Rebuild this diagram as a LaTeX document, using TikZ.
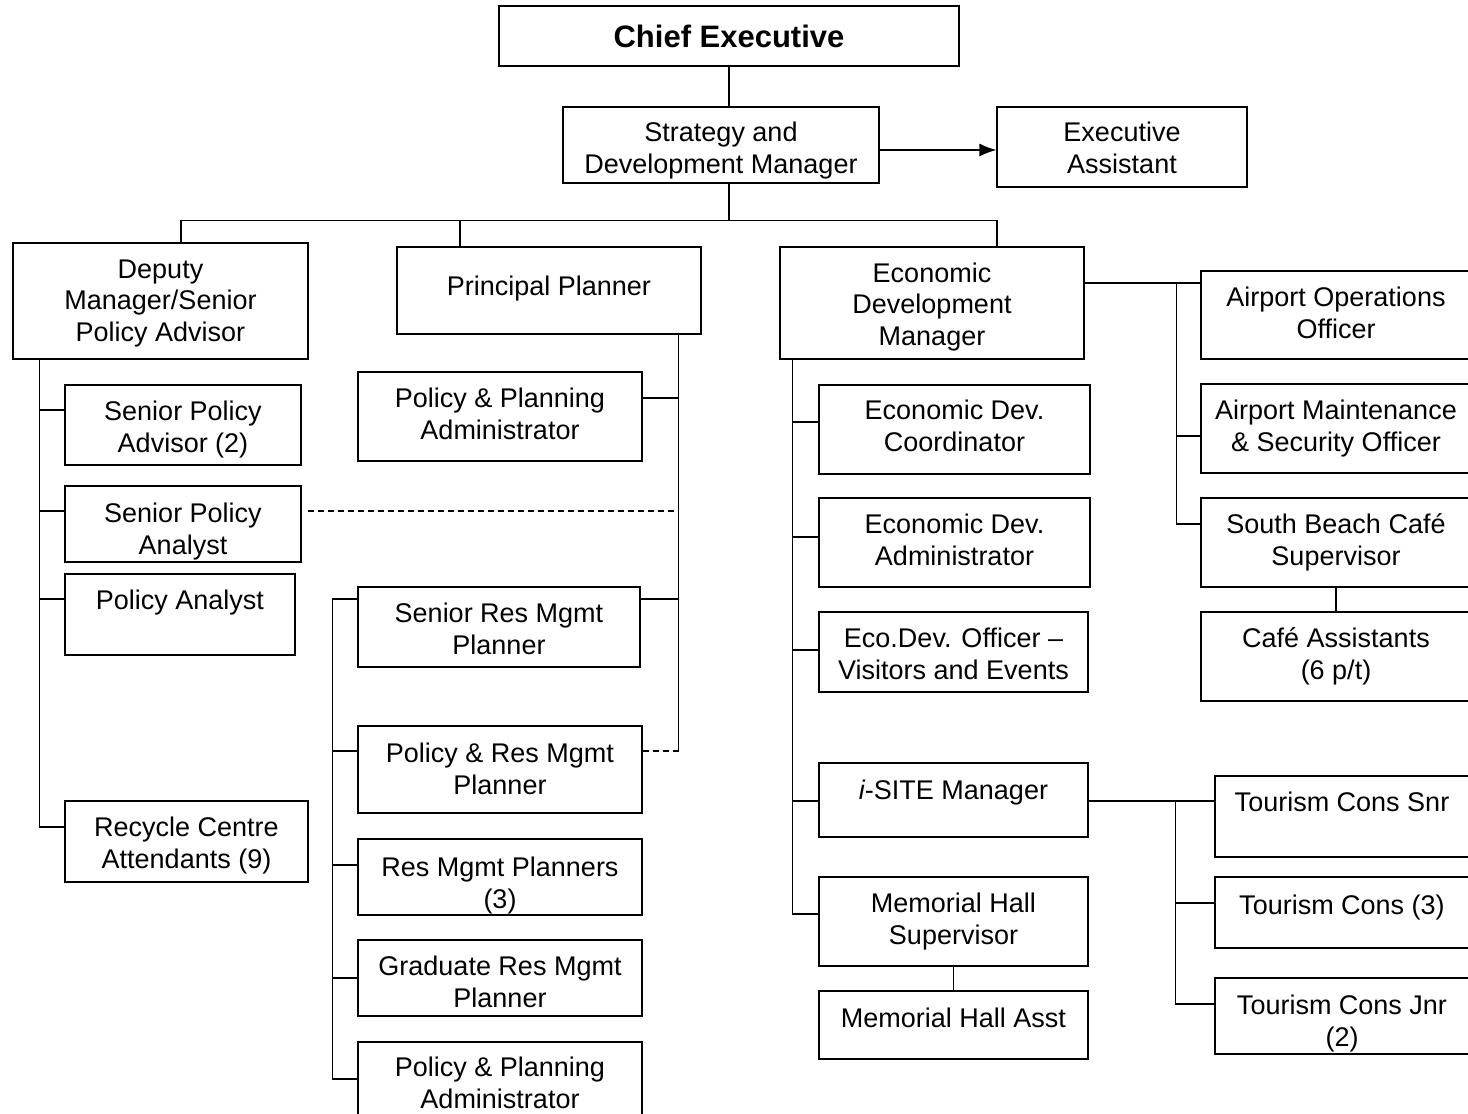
\documentclass[tikz,border=0pt]{standalone}
\usepackage{fontspec}
\setmainfont{Liberation Sans}
\usetikzlibrary{arrows.meta}

\begin{document}
\begin{tikzpicture}[x=1pt, y=-1pt, line width=1.2pt,
    role/.style={draw, align=center, inner sep=0pt, font=\fontsize{27}{31.5}\selectfont},
    tb/.style={text height=#1, text depth=0pt},
    tt/.style={text height=0pt, text depth=#1},
    dashline/.style={dash pattern=on 6pt off 4pt}]
    \useasboundingbox (0,0) rectangle (1468,1114);
    \node[role, minimum width=460pt, minimum height=60pt, font=\fontsize{31}{36}\selectfont\bfseries] (chief) at (729,36) {Chief Executive};
    \node[role, tb=56.5pt, minimum width=316pt, minimum height=76pt] (sdm) at (721,145) {Strategy and\\Development Manager};
    \node[role, tb=52.5pt, minimum width=250pt, minimum height=80pt] (ea) at (1122,147) {Executive\\Assistant};
    \node[role, tb=80.5pt, minimum width=295pt, minimum height=116pt] (dep) at (160.5,301) {Deputy\\Manager/Senior\\Policy Advisor};
    \node[role, tb=9.5pt, minimum width=304pt, minimum height=87pt] (pp) at (549,290.5) {Principal Planner};
    \node[role, tb=84.5pt, minimum width=304pt, minimum height=112pt] (edm) at (932,303) {Economic\\Development\\Manager};
    \node[role, tb=46.5pt, minimum width=270pt, minimum height=88pt] (aoo) at (1336,315) {Airport Operations\\Officer};
    \node[role, tb=45.5pt, minimum width=270pt, minimum height=89pt] (ams) at (1336,428.5) {Airport Maintenance\\\& Security Officer};
    \node[role, tb=45.5pt, minimum width=270pt, minimum height=89pt] (sbc) at (1336,542.5) {South Beach Café\\Supervisor};
    \node[role, tb=45.5pt, minimum width=270pt, minimum height=89pt] (cafe) at (1336,656.5) {Café Assistants\\(6 p/t)};
    \node[role, tb=54.5pt, minimum width=236pt, minimum height=80pt] (spa) at (183,425) {Senior Policy\\Advisor (2)};
    \node[role, tb=60.5pt, minimum width=236pt, minimum height=76pt] (span) at (183,524) {Senior Policy\\Analyst};
    \node[role, tt=10.5pt, minimum width=230pt, minimum height=81pt] (pa) at (180,614.5) {Policy Analyst};
    \node[role, tb=53.5pt, minimum width=243pt, minimum height=81pt] (rca) at (186.5,841.5) {Recycle Centre\\Attendants (9)};
    \node[role, tb=45.5pt, minimum width=284pt, minimum height=89pt] (ppa1) at (500,416.5) {Policy \& Planning\\Administrator};
    \node[role, tb=54.5pt, minimum width=282pt, minimum height=80pt] (srmp) at (499,627) {Senior Res Mgmt\\Planner};
    \node[role, tb=49.5pt, minimum width=284pt, minimum height=87pt] (prmp) at (500,769.5) {Policy \& Res Mgmt\\Planner};
    \node[role, tb=62.5pt, minimum width=284pt, minimum height=76pt] (rmp) at (500,877) {Res Mgmt Planners\\(3)};
    \node[role, tb=58.5pt, minimum width=284pt, minimum height=76pt] (grmp) at (500,978) {Graduate Res Mgmt\\Planner};
    \node[role, tb=48.5pt, minimum width=284pt, minimum height=84pt] (ppa2) at (500,1084) {Policy \& Planning\\Administrator};
    \node[role, tb=43.5pt, minimum width=271pt, minimum height=89pt] (edc) at (954.5,429.5) {Economic Dev.\\Coordinator};
    \node[role, tb=45.5pt, minimum width=271pt, minimum height=89pt] (eda) at (954.5,542.5) {Economic Dev.\\Administrator};
    \node[role, tb=54.5pt, minimum width=269pt, minimum height=80pt] (edo) at (953.5,652) {Eco.Dev. Officer --\\Visitors and Events};
    \node[role, tt=1.5pt, minimum width=269pt, minimum height=74pt] (isite) at (953.5,800) {{\itshape i}-SITE Manager};
    \node[role, tb=45.5pt, minimum width=269pt, minimum height=89pt] (mhs) at (953.5,921.5) {Memorial Hall\\Supervisor};
    \node[role, tb=4.5pt, minimum width=269pt, minimum height=68pt] (mha) at (953.5,1025) {Memorial Hall Asst};
    \node[role, tt=10.5pt, minimum width=254pt, minimum height=81pt] (tcs) at (1342,816.5) {Tourism Cons Snr};
    \node[role, tb=3.5pt, minimum width=254pt, minimum height=71pt] (tc3) at (1342,912.5) {Tourism Cons (3)};
    \node[role, tb=60.5pt, minimum width=254pt, minimum height=76pt] (tcj) at (1342,1016) {Tourism Cons Jnr\\(2)};

    \draw (chief.south) -- (chief.south |- sdm.north);
    \draw[-{Latex[length=17pt,width=13pt]}] ([yshift=-5]sdm.east) -- ([yshift=-5]sdm.east -| ea.west);
    \draw ([xshift=8]sdm.south) -- ++(0,37) coordinate (bus);
    \coordinate (depin) at ([xshift=20.5]dep.north);
    \coordinate (ppin) at ([xshift=-89]pp.north);
    \coordinate (edmin) at ([xshift=65]edm.north);
    \draw (depin) |- (bus) -| (edmin);
    \draw (ppin) -- (ppin |- bus);

    \coordinate (dtop) at ([xshift=27]dep.south west);
    \draw (dtop) |- ([yshift=14.5]rca.west);
    \foreach \n/\s in {spa/15, span/13, pa/15.5}
        \draw ([yshift=\s]\n.west) -- ([yshift=\s]\n.west -| dtop);

    \coordinate (ptop) at ([xshift=-23]pp.south east);
    \draw ([yshift=18.5]ppa1.east) -- ([yshift=18.5]ppa1.east -| ptop);
    \draw ([yshift=28]srmp.east) -- ([yshift=28]srmp.east -| ptop);
    \draw (ptop) -- ([yshift=18.5]prmp.east -| ptop) coordinate (pend);
    \draw[dashline] ([yshift=18.5]prmp.east) -- (pend);
    \draw[dashline] ([xshift=6,yshift=13]span.east) -- ([yshift=13]span.east -| ptop);

    \draw ([yshift=28]srmp.west) -- ++(-25,0) coordinate (rtop) |- ([yshift=5]ppa2.west);
    \foreach \n/\s in {prmp/18.5, rmp/12, grmp/0}
        \draw ([yshift=\s]\n.west) -- ([yshift=\s]\n.west -| rtop);

    \coordinate (etop) at ([xshift=13]edm.south west);
    \draw (etop) |- ([yshift=7.5]mhs.west);
    \foreach \n/\s in {edc/7.5, eda/5.5, edo/2, isite/-1}
        \draw ([yshift=\s]\n.west) -- ([yshift=\s]\n.west -| etop);
    \draw (mhs.south) -- (mha.north);

    \draw ([yshift=20]edm.east) -- ([yshift=32]aoo.west);
    \coordinate (abus) at ([xshift=-24,yshift=32]aoo.west);
    \draw (abus) |- ([yshift=18.5]sbc.west);
    \draw ([yshift=-7.5]ams.west) -- ([yshift=-7.5]ams.west -| abus);
    \draw (sbc.south) -- (cafe.north);

    \draw ([yshift=-1]isite.east) -- ([yshift=15.5]tcs.west);
    \coordinate (tbus) at ([xshift=-39,yshift=15.5]tcs.west);
    \draw (tbus) |- ([yshift=12]tcj.west);
    \draw ([yshift=9.5]tc3.west) -- ([yshift=9.5]tc3.west -| tbus);
\end{tikzpicture}
\end{document}
